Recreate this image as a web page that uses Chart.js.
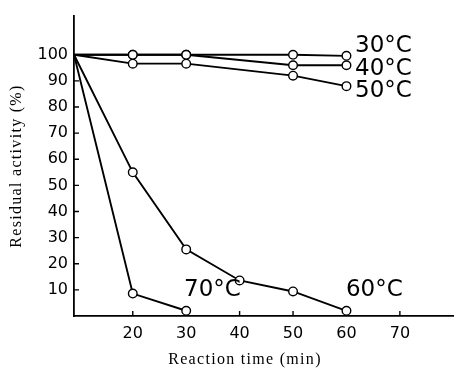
<!DOCTYPE html>
<html>
<head>
<meta charset="utf-8">
<script src="https://cdn.jsdelivr.net/npm/chart.js@4.4.1/dist/chart.umd.min.js"></script>
<style>
  html, body { margin: 0; padding: 0; background: #fff; }
  #wrap { width: 459px; height: 371px; }
</style>
</head>
<body>
<div id="wrap"><canvas id="chart"></canvas></div>
<script>
// reaction time (min) and residual activity (%) per temperature
const times30 = [9, 20, 30, 50, 60];
const act30 = [100, 100, 100, 100, 99.6];
const times40 = [9, 20, 30, 50, 60];
const act40 = [100, 100, 100, 96, 96];
const times50 = [9, 20, 30, 50, 60];
const act50 = [100, 96.6, 96.6, 92, 88];
const times60 = [9, 20, 30, 40, 50, 60];
const act60 = [100, 55, 25.5, 13.6, 9.4, 2];
const times70 = [9, 20, 30];
const act70 = [100, 8.6, 2];

const seriesNames = ['30°C', '40°C', '50°C', '60°C', '70°C'];
const xTicks = [20, 30, 40, 50, 60, 70];
const yTicks = [10, 20, 30, 40, 50, 60, 70, 80, 90, 100];

const sans = "'DejaVu Sans', sans-serif";
const serif = "'Liberation Serif', serif";

function pairs(xs, ys) {
  return xs.map((x, i) => ({ x: x, y: ys[i] }));
}

const allTimes = [times30, times40, times50, times60, times70];
const allActs = [act30, act40, act50, act60, act70];

const datasets = seriesNames.map((name, i) => ({
  label: name,
  data: pairs(allTimes[i], allActs[i]),
  borderColor: '#000',
  borderWidth: 1.9,
  backgroundColor: '#fff',
  pointBackgroundColor: '#fff',
  pointBorderColor: '#000',
  pointBorderWidth: 1.4,
  pointRadius: ctx => ctx.dataIndex === 0 ? 0 : 4.3,
  tension: 0
}));

// where the temperature names sit, in data units (left edge, middle)
const namePlaces = {
  '30°C': [61.6, 103.3],
  '40°C': [61.6, 94.7],
  '50°C': [61.6, 86],
  '60°C': [59.9, 10],
  '70°C': [29.6, 10]
};

const extras = {
  id: 'extras',
  beforeDatasetsDraw(chart) {
    const ctx = chart.ctx;
    const xs = chart.scales.x, ys = chart.scales.y;
    const x0 = xs.left, y0 = ys.bottom;
    ctx.save();
    ctx.strokeStyle = '#000';
    ctx.lineWidth = 1.4;
    ctx.beginPath();
    xTicks.forEach(v => {
      const px = xs.getPixelForValue(v);
      ctx.moveTo(px, y0);
      ctx.lineTo(px, y0 - 5);
    });
    yTicks.forEach(v => {
      const py = ys.getPixelForValue(v);
      ctx.moveTo(x0, py);
      ctx.lineTo(x0 + 5, py);
    });
    ctx.stroke();
    ctx.restore();
  },
  afterDatasetsDraw(chart) {
    const ctx = chart.ctx;
    const xs = chart.scales.x, ys = chart.scales.y;
    ctx.save();
    ctx.fillStyle = '#000';
    ctx.font = '23px ' + sans;
    ctx.textAlign = 'left';
    ctx.textBaseline = 'middle';
    seriesNames.forEach(n => {
      const p = namePlaces[n];
      ctx.fillText(n, xs.getPixelForValue(p[0]), ys.getPixelForValue(p[1]));
    });

    // axis titles
    ctx.font = '16px ' + serif;
    ctx.letterSpacing = '1.3px';
    ctx.textAlign = 'center';
    ctx.fillText('Reaction time (min)', 245, 360);
    ctx.translate(17, 166);
    ctx.rotate(-Math.PI / 2);
    ctx.fillText('Residual activity (%)', 0, 0);
    ctx.restore();
  }
};

new Chart(document.getElementById('chart'), {
  type: 'line',
  data: { datasets: datasets },
  options: {
    responsive: true,
    maintainAspectRatio: false,
    animation: false,
    layout: { padding: { top: 8, right: 0, left: 0, bottom: 0 } },
    plugins: {
      legend: { display: false },
      tooltip: { enabled: false }
    },
    scales: {
      x: {
        type: 'linear',
        min: 9,
        max: 80,
        afterFit: s => { s.height = 55; },
        afterBuildTicks: s => { s.ticks = xTicks.map(v => ({ value: v })); },
        grid: { display: false, drawTicks: false },
        border: { display: true, color: '#000', width: 1.8 },
        ticks: { color: '#000', font: { family: sans, size: 16 }, padding: 8, maxRotation: 0 }
      },
      y: {
        min: 0,
        max: 115,
        afterFit: s => { s.width = 74; },
        afterBuildTicks: s => { s.ticks = yTicks.map(v => ({ value: v })); },
        grid: { display: false, drawTicks: false },
        border: { display: true, color: '#000', width: 1.8 },
        ticks: { color: '#000', font: { family: sans, size: 16 }, padding: 6 }
      }
    }
  },
  plugins: [extras]
});
</script>
</body>
</html>
